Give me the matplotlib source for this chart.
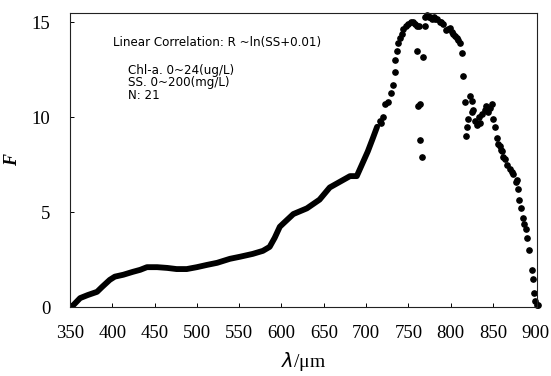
import matplotlib
matplotlib.use("Agg")
import matplotlib.pyplot as plt

# dense part of the spectrum (drawn as a thick trace)
wl_curve = [350, 354, 362, 371, 382, 388, 397, 403, 413, 424, 433, 441, 453,
            465, 476, 488, 500, 512, 524, 539, 551, 566, 578, 586, 592, 598,
            602, 614, 630, 645, 657, 669, 681, 689, 696, 702, 708, 713]
f_curve = [0.0, 0.1, 0.47, 0.63, 0.8, 1.06, 1.43, 1.6, 1.7, 1.85, 1.96, 2.1,
           2.1, 2.06, 2.0, 2.0, 2.1, 2.22, 2.33, 2.54, 2.65, 2.8, 2.96, 3.17,
           3.65, 4.23, 4.4, 4.9, 5.2, 5.66, 6.3, 6.6, 6.9, 6.9, 7.6, 8.2, 8.9,
           9.5]

# sparse points in the red / near-infrared part
wl_pts = [716, 718, 720, 722, 726, 729, 732, 734, 734, 736, 738, 740, 742, 744,
          747, 750, 753, 755, 758, 760, 762,
          760, 767, 761, 764, 764, 766, 770,
          770, 772, 774, 776, 778, 780, 782, 784, 787, 789, 791, 794, 797, 799,
          801, 803, 805, 807, 809, 811, 813, 815, 817, 818, 819, 820, 823, 825,
          825, 826, 829, 831, 833, 835, 837, 840, 842, 844, 847, 849, 850, 852,
          855, 856, 858, 860, 861, 862, 864, 867, 870, 872, 874, 877, 878, 880,
          881, 883, 885, 887, 889, 890, 893, 896, 897, 898, 900, 902, 903]
f_pts = [9.8, 9.7, 10.0, 10.7, 10.8, 11.3, 11.7, 12.4, 13.0, 13.5, 13.9, 14.2,
         14.4, 14.65, 14.8, 14.9, 15.0, 15.0, 14.9, 14.8, 14.8,
         13.5, 13.2, 10.6, 10.7, 8.8, 7.9, 14.8,
         15.3, 15.4, 15.3, 15.3, 15.2, 15.3, 15.2, 15.2, 15.0, 15.0, 14.9, 14.6,
         14.65, 14.7, 14.5, 14.4, 14.3, 14.2, 14.1, 13.9, 13.4, 12.2, 10.8, 9.0,
         9.5, 9.9, 11.1, 10.85, 10.3, 10.4, 9.8, 9.6, 10.0, 9.7, 10.2, 10.4,
         10.6, 10.3, 10.5, 10.7, 9.9, 9.5, 8.9, 8.6, 8.5, 8.3, 8.2, 7.9, 7.8,
         7.5, 7.25, 7.1, 7.0, 6.6, 6.7, 6.2, 5.66, 5.2, 4.7, 4.4, 4.1, 3.65,
         3.0, 1.96, 1.5, 0.74, 0.3, 0.1, 0.1]

x_ticks = [350, 400, 450, 500, 550, 600, 650, 700, 750, 800, 850, 900]
y_ticks = [0, 5, 10, 15]

fig = plt.figure(figsize=(5.51, 3.76), dpi=100)
ax = fig.add_axes([0.127, 0.1835, 0.8476, 0.782])

ax.plot(wl_curve, f_curve, "-", color="black", lw=4.2, solid_capstyle="round")
ax.plot(wl_pts, f_pts, "o", color="black", markersize=3.8, clip_on=False)

ax.set_xlim(350, 902)
ax.set_ylim(0, 15.5)
ax.set_xticks(x_ticks)
ax.set_yticks(y_ticks)
ax.tick_params(direction="in", length=3, width=0.7, labelsize=13.5)
ax.tick_params(axis="x", pad=13)
ax.tick_params(axis="y", pad=14)
for lab in ax.get_xticklabels() + ax.get_yticklabels():
    lab.set_family("Liberation Serif")
for sp in ax.spines.values():
    sp.set_linewidth(0.8)
    sp.set_color("#222222")

ax.set_xlabel(r"$\lambda$/μm", family="Liberation Serif", fontsize=14,
              labelpad=6)
ax.set_ylabel("F", family="Liberation Serif", style="italic",
              fontweight="bold", fontsize=13, labelpad=8)

tfont = dict(family="DejaVu Sans", fontsize=8.6, va="center",
             transform=ax.transAxes)
ax.text(0.092, 0.898, "Linear Correlation: R ~ln(SS+0.01)", **tfont)
ax.text(0.124, 0.805, "Chl-a. 0~24(ug/L)", **tfont)
ax.text(0.124, 0.762, "SS. 0~200(mg/L)", **tfont)
ax.text(0.124, 0.720, "N: 21", **tfont)

fig.savefig("out.png", dpi=100)
